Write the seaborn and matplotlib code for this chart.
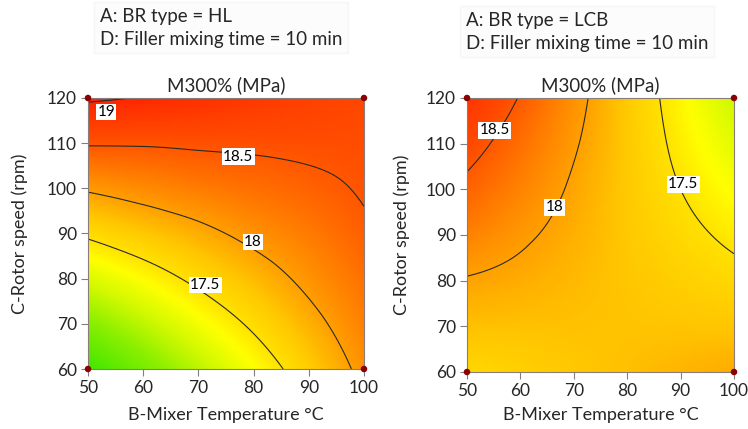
import numpy as np
import matplotlib
matplotlib.use("Agg")
import matplotlib.pyplot as plt
import matplotlib.tri as mtri
from matplotlib.colors import LinearSegmentedColormap
import seaborn as sns

# ---------------- data ----------------
mixer_temp = [50, 60, 70, 80, 90, 100]          # B-Mixer Temperature (°C)
rotor_speed = [60, 70, 80, 90, 100, 110, 120]   # C-Rotor speed (rpm)

# M300% (MPa), rows = rotor speed (60..120), cols = mixer temperature (50..100)
m300_HL = [
    [16.03, 16.45, 16.87, 17.28, 17.69, 18.09],
    [16.55, 16.89, 17.23, 17.56, 17.89, 18.21],
    [17.06, 17.32, 17.58, 17.83, 18.08, 18.32],
    [17.56, 17.74, 17.91, 18.09, 18.25, 18.44],
    [18.04, 18.14, 18.24, 18.33, 18.42, 18.53],
    [18.53, 18.53, 18.55, 18.56, 18.57, 18.58],
    [19.05, 18.98, 18.89, 18.80, 18.71, 18.63],
]
m300_LCB = [
    [17.60, 17.67, 17.74, 17.80, 17.87, 17.93],
    [17.80, 17.79, 17.79, 17.78, 17.77, 17.76],
    [17.98, 17.92, 17.84, 17.76, 17.68, 17.60],
    [18.21, 18.05, 17.90, 17.74, 17.59, 17.43],
    [18.42, 18.19, 17.96, 17.73, 17.50, 17.27],
    [18.63, 18.33, 18.03, 17.73, 17.42, 17.12],
    [18.85, 18.48, 18.10, 17.73, 17.35, 16.97],
]
contour_levels = [17.5, 18.0, 18.5, 19.0]
level_text = ["17.5", "18", "18.5", "19"]

design_temp = [50, 50, 100, 100]
design_speed = [60, 120, 60, 120]

panel_notes = ["A: BR type = HL\nD: Filler mixing time = 10 min",
               "A: BR type = LCB\nD: Filler mixing time = 10 min"]

# ---------------- style ----------------
sns.set_style("white")
plt.rcParams["font.family"] = ["Lato", "DejaVu Sans"]

stops = [(16.0, "#3ce600"), (16.6, "#8cef00"), (17.0, "#d2f900"),
         (17.3, "#ffff00"), (17.5, "#ffe200"), (17.75, "#ffc800"),
         (18.0, "#ffa000"), (18.3, "#ff7400"), (18.6, "#ff4a00"),
         (19.05, "#ff2200")]
vmin, vmax = stops[0][0], stops[-1][0]
cmap = LinearSegmentedColormap.from_list(
    "rsm", [((v - vmin) / (vmax - vmin), c) for v, c in stops])

fig = plt.figure(figsize=(7.48, 4.29), dpi=100)
W, H = 748, 429
ax_px = [(88, 98, 364, 369), (467, 98, 734, 372)]
ylabel_right_px = [28, 410]

label_pos = [
    {19.0: (53.3, 116.9), 18.5: (77.2, 107.0), 18.0: (79.9, 88.1), 17.5: (71.2, 78.6)},
    {18.5: (55.2, 112.9), 18.0: (66.4, 96.1), 17.5: (90.5, 101.1)},
]
note_px = [(100, 8), (466, 12)]

for i, data in enumerate([m300_HL, m300_LCB]):
    x0, y0, x1, y1 = ax_px[i]
    ax = fig.add_axes([x0 / W, 1 - y1 / H, (x1 - x0) / W, (y1 - y0) / H])

    X, Y = np.meshgrid(mixer_temp, rotor_speed)
    Z = np.array(data)
    tri = mtri.Triangulation(X.ravel(), Y.ravel())
    refiner = mtri.UniformTriRefiner(tri)
    tri_f, z_f = refiner.refine_field(Z.ravel(), subdiv=4)

    ax.tripcolor(tri_f, z_f, shading="gouraud", cmap=cmap, vmin=vmin, vmax=vmax,
                 rasterized=True)
    ax.tricontour(tri_f, z_f, levels=contour_levels, colors="#2a2a2a",
                  linewidths=0.8)

    for lev, txt in zip(contour_levels, level_text):
        if lev in label_pos[i]:
            lx, ly = label_pos[i][lev]
            ax.text(lx, ly, txt, ha="center", va="center", fontsize=11,
                    color="black", zorder=6,
                    bbox=dict(facecolor="white", edgecolor="none", pad=1.0))

    sns.scatterplot(x=design_temp, y=design_speed, ax=ax, color="#8b0000",
                    s=22, edgecolor="none", zorder=7, clip_on=False, legend=False)

    ax.set_xlim(50, 100)
    ax.set_ylim(60, 120)
    ax.set_xticks(mixer_temp)
    ax.set_yticks(rotor_speed)
    ax.tick_params(axis="both", which="both", direction="out", length=5,
                   width=0.8, color="#808080", labelsize=12.5, pad=3,
                   bottom=True, left=True)
    for sp in ax.spines.values():
        sp.set_color("#8a7c78")
        sp.set_linewidth(0.8)

    ax.set_title("M300% (MPa)", fontsize=13.5, pad=5)
    ax.set_xlabel("B-Mixer Temperature °C", fontsize=13)
    ax.set_ylabel("C-Rotor speed (rpm)", fontsize=13)
    ax.xaxis.set_label_coords(0.5, -(407 - y1) / (y1 - y0))
    ax.yaxis.set_label_coords(-(x0 - ylabel_right_px[i]) / (x1 - x0), 0.5)

    nx, ny = note_px[i]
    fig.text(nx / W, 1 - ny / H, panel_notes[i], ha="left", va="top",
             fontsize=13.5, linespacing=1.4,
             bbox=dict(facecolor="#fcfcfc", edgecolor="#f6f6f6", pad=4))

fig.savefig("out.png", dpi=100)
